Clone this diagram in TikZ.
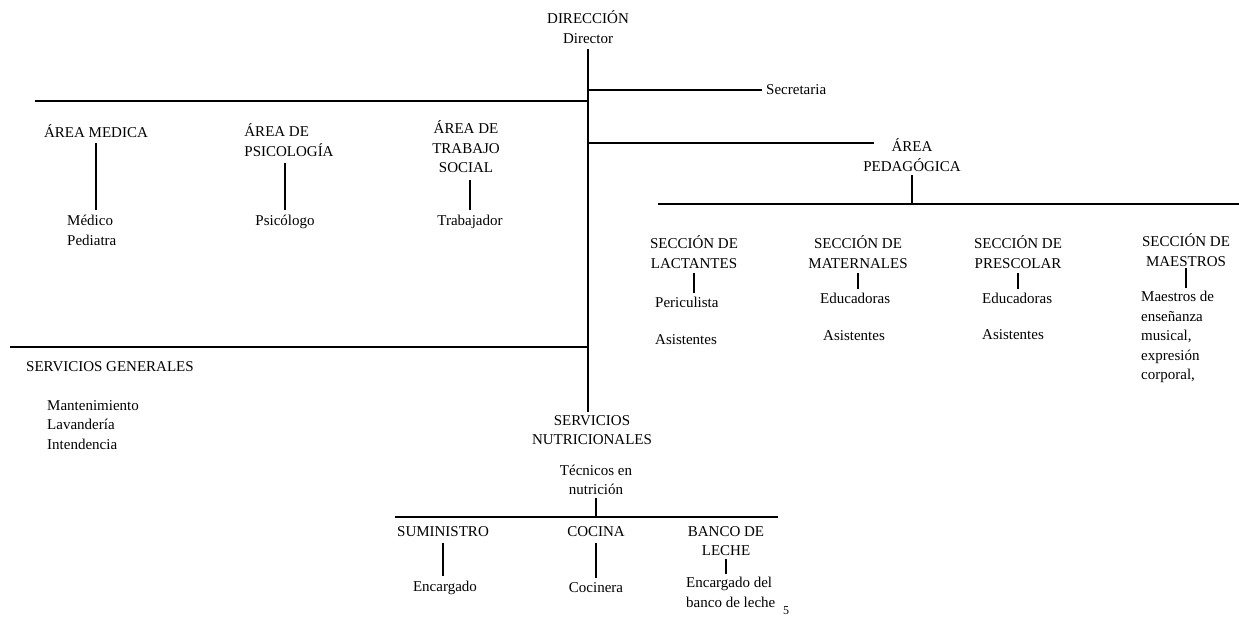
\documentclass[tikz,border=0pt]{standalone}
\usepackage{fontspec}
\setmainfont{Liberation Serif}
\begin{document}
\begin{tikzpicture}[x=1pt,y=-1pt,
  every node/.style={font=\fontsize{15}{19.5}\selectfont, inner sep=0pt, align=center},
  conn/.style={line width=2pt},
  thinc/.style={line width=1.6pt}]
\useasboundingbox (0,0) rectangle (1239,618);
% top
\node (dir) at (588,27) {DIRECCIÓN\\Director};
\node[anchor=west] (sec) at (766,90) {Secretaria};
\node (ped) at (912,155) {ÁREA\\PEDAGÓGICA};
% left areas
\node (amed) at (96,131) {ÁREA MEDICA};
\node[align=left] (apsi) at (289,140) {ÁREA DE\\PSICOLOGÍA};
\node (atra) at (466,147) {ÁREA DE\\TRABAJO\\SOCIAL};
\node[anchor=north west, align=left] (medp) at (67,215) {Médico\\Pediatra};
\node[anchor=north] (psi) at (285,215) {Psicólogo};
\node[anchor=north] (tra) at (470,215) {Trabajador};
% sections
\node (slac) at (694,252) {SECCIÓN DE\\LACTANTES};
\node (smat) at (858,252) {SECCIÓN DE\\MATERNALES};
\node (spre) at (1018,252) {SECCIÓN DE\\PRESCOLAR};
\node (smae) at (1186,250) {SECCIÓN DE\\MAESTROS};
\node[anchor=west] (peri) at (655,302) {Periculista};
\node[anchor=west] (asl) at (655,340) {Asistentes};
\node[anchor=west] (edm) at (820,298) {Educadoras};
\node[anchor=west] (asm) at (823,336) {Asistentes};
\node[anchor=west] (edp) at (982,298) {Educadoras};
\node[anchor=west] (asp) at (982,335) {Asistentes};
\node[anchor=north west, align=left] (mae) at (1141,291) {Maestros de\\enseñanza\\musical,\\expresión\\corporal,};
% general services
\node[anchor=west] (sgen) at (26,367) {SERVICIOS GENERALES};
\node[anchor=north west, align=left] (sgl) at (47,400) {Mantenimiento\\Lavandería\\Intendencia};
% nutrition
\node (snut) at (592,430) {SERVICIOS\\NUTRICIONALES};
\node (tec) at (596,480) {Técnicos en\\nutrición};
\node (sum) at (443,532) {SUMINISTRO};
\node (coc) at (596,532) {COCINA};
\node (ban) at (726,541) {BANCO DE\\LECHE};
\node (enc) at (445,588) {Encargado};
\node (cocn) at (596,588) {Cocinera};
\node[anchor=north west, align=left] (encb) at (686,577) {Encargado del\\banco de leche};
\node (pg) at (786,611) {\fontsize{12}{14}\selectfont 5};
% trunk
\coordinate (ttop) at ([yshift=-6pt]dir.south);
\coordinate (tbot) at ([yshift=3pt]snut.north -| ttop);
\draw[conn] (ttop) -- (tbot);
% branches
\coordinate (lL) at (35,101);
\draw[conn] (lL) -- (lL -| ttop);
\draw[thinc] (sec.west -| ttop) -- ([xshift=-4pt]sec.west);
\coordinate (pedL) at (874,143);
\draw[conn] (pedL -| ttop) -- (pedL);
\coordinate (secL) at (658,204);
\coordinate (secR) at (1239,204);
\draw[conn] (secL) -- (secR);
\draw[conn] ([yshift=-4pt]ped.south) -- (ped.south |- secL);
\coordinate (sgL) at (10,347);
\draw[conn] (sgL) -- (sgL -| ttop);
% area verticals
\draw[thinc] ([yshift=-5pt]amed.south) -- ([yshift=5pt]amed.south |- medp.north);
\draw[thinc] ([yshift=-7pt]apsi.south -| psi.north) -- ([yshift=5pt]psi.north);
\draw[thinc] ([yshift=-7pt]atra.south -| tra.north) -- ([yshift=5pt]tra.north);
% section verticals
\draw[conn] ([yshift=-5pt]slac.south) -- ([yshift=4pt]slac.south |- peri.north);
\draw[conn] ([yshift=-5pt]smat.south) -- ([yshift=4pt]smat.south |- edm.north);
\draw[conn] ([yshift=-5pt]spre.south) -- ([yshift=4pt]spre.south |- edp.north);
\draw[thinc] ([yshift=-2pt]smae.south) -- ([yshift=3pt]smae.south |- mae.north);
% nutrition
\coordinate (nutL) at (395,517);
\coordinate (nutR) at (778,517);
\draw[conn] (nutL) -- (nutR);
\draw[conn] ([yshift=-3pt]tec.south) -- (tec.south |- nutL);
\draw[thinc] ([yshift=-6pt]sum.south) -- ([yshift=5pt]sum.south |- enc.north);
\draw[thinc] ([yshift=-6pt]coc.south) -- ([yshift=5pt]coc.south |- cocn.north);
\draw[conn] ([yshift=-3pt]ban.south) -- ([yshift=3pt]ban.south |- encb.north);
\end{tikzpicture}
\end{document}
